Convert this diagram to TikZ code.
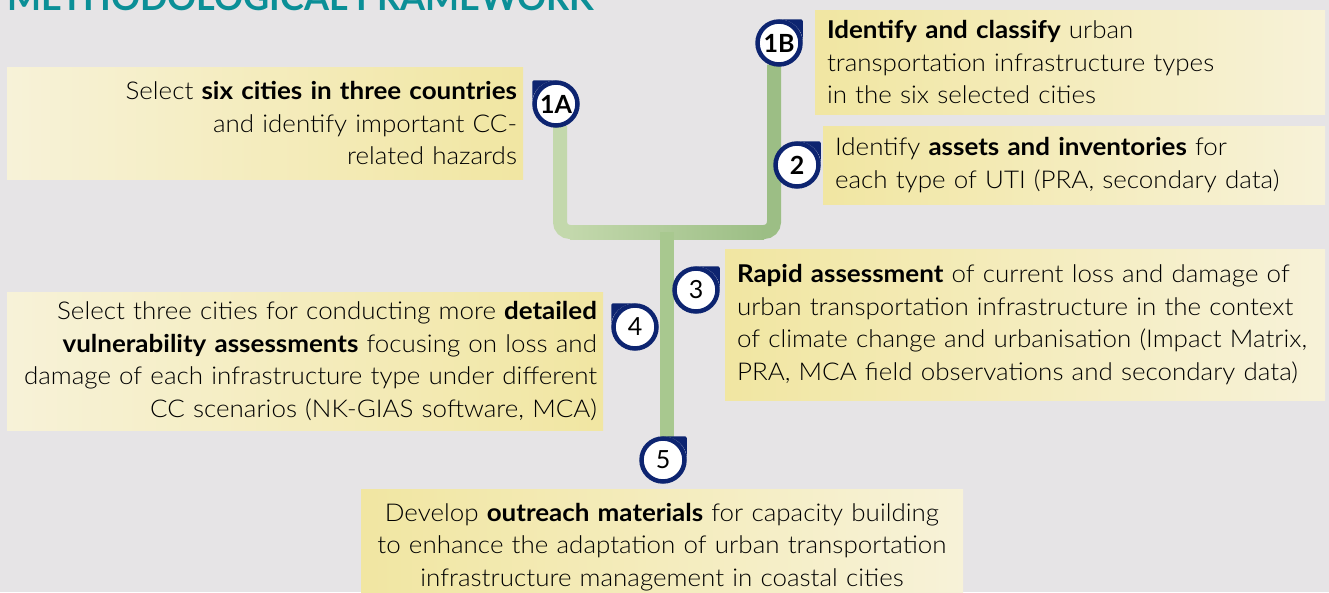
\documentclass[tikz,border=0pt]{standalone}
\usepackage{fontspec}
\setmainfont{Lato}[UprightFont={* Light},BoldFont={* Bold},FakeStretch=1.06]
\newfontfamily\numfont{Lato}
\definecolor{bgcolor}{HTML}{E6E4E6}
\definecolor{boxpale}{HTML}{F7F2D8}
\definecolor{boxgold}{HTML}{F1E6A2}
\definecolor{badgeblue}{HTML}{0D2470}
\definecolor{stemlight}{HTML}{C3D8AC}
\definecolor{stemdark}{HTML}{9CBE85}
\definecolor{stemmid}{HTML}{A8C88F}
\definecolor{titleteal}{HTML}{0B8F97}
\pgfdeclarelayer{backdrop}
\pgfdeclarelayer{stems}
\pgfsetlayers{backdrop,stems,main}
\begin{document}
\begin{tikzpicture}[x=1pt,y=-1pt,
    infobox/.style={rectangle, inner xsep=12, inner ysep=0, font=\fontsize{24.5}{32.5}\selectfont},
    leftbox/.style={infobox, left color=boxpale, right color=boxgold, align=right, inner xsep=6},
    rightbox/.style={infobox, left color=boxgold, right color=boxpale, align=left},
    midbox/.style={infobox, left color=boxgold, right color=boxpale, align=center},
    badge/.style={circle, draw=badgeblue, line width=4.5, fill=white, minimum size=43, inner sep=0, outer sep=0, font=\fontsize{25}{25}\numfont\bfseries},
    stem/.style={line width=14, rounded corners=10}]

    \useasboundingbox (0,0) rectangle (1329,592);
    \clip (0,0) rectangle (1329,592);
    \begin{pgfonlayer}{backdrop}
        \fill[bgcolor] (0,0) rectangle (1329,592);
    \end{pgfonlayer}

    \node[anchor=base west, inner sep=0, text=titleteal, font=\fontsize{36}{36}\numfont\bfseries] (title) at (7,10) {METHODOLOGICAL FRAMEWORK};

    % steps
    \node[leftbox, minimum width=516, minimum height=112, text width=504] (s1a) at (265,123) {Select \textbf{six cities in three countries}\\ and identify important CC-\\ related hazards};
    \node[rightbox, minimum width=510, minimum height=104, text width=486] (s1b) at (1070,62) {\textbf{Identify and classify} urban\\ transportation infrastructure types\\ in the six selected cities};
    \node[rightbox, minimum width=502, minimum height=78, text width=478] (s2) at (1074,165) {Identify \textbf{assets and inventories} for\\ each type of UTI (PRA, secondary data)};
    \node[rightbox, minimum width=600, minimum height=151, text width=576] (s3) at (1025,324.5) {\textbf{Rapid assessment} of current loss and damage of\\ urban transportation infrastructure in the context\\ of climate change and urbanisation (Impact Matrix,\\ PRA, MCA field observations and secondary data)};
    \node[leftbox, minimum width=596, minimum height=138, text width=584] (s4) at (305,361) {Select three cities for conducting more \textbf{detailed}\\ \textbf{vulnerability assessments} focusing on loss and\\ damage of each infrastructure type under different\\ CC scenarios (NK-GIAS software, MCA)};
    \node[midbox, minimum width=602, minimum height=116, text width=578] (s5) at (662,547) {Develop \textbf{outreach materials} for capacity building\\ to enhance the adaptation of urban transportation\\ infrastructure management in coastal cities};

    % badges
    \node[badge] (b1a) at (556,104) {1A};
    \node[badge] (b1b) at (779,43) {1B};
    \node[badge] (b2) at (797,165) {2};
    \node[badge] (b3) at (696,290) {\mdseries 3};
    \node[badge] (b4) at (635,327) {\mdseries 4};
    \node[badge] (b5) at (663,460) {\mdseries 5};

    \fill[badgeblue, rounded corners=2] (b1a.center) ++(0,-23.75) -- ++(-23.75,0) -- ++(0,23.75) arc[start angle=180, end angle=270, radius=23.75];
    \fill[badgeblue, rounded corners=2] (b1b.center) ++(0,-23.75) -- ++(23.75,0) -- ++(0,23.75) arc[start angle=0, end angle=-90, radius=23.75];
    \fill[badgeblue, rounded corners=2] (b2.center) ++(0,-23.75) -- ++(23.75,0) -- ++(0,23.75) arc[start angle=0, end angle=-90, radius=23.75];
    \fill[badgeblue, rounded corners=2] (b3.center) ++(0,-23.75) -- ++(23.75,0) -- ++(0,23.75) arc[start angle=0, end angle=-90, radius=23.75];
    \fill[badgeblue, rounded corners=2] (b4.center) ++(0,-23.75) -- ++(-23.75,0) -- ++(0,23.75) arc[start angle=180, end angle=270, radius=23.75];
    \fill[badgeblue, rounded corners=2] (b5.center) ++(0,-23.75) -- ++(23.75,0) -- ++(0,23.75) arc[start angle=0, end angle=-90, radius=23.75];

    % tree
    \coordinate (fork) at (667,232);
    \begin{pgfonlayer}{stems}
        \draw[stem, stemlight] ([xshift=4]b1a.south) |- (fork);
        \draw[stem, stemdark] (fork) -| ([xshift=-5]b1b.south);
        \shade[left color=stemlight, right color=stemdark] (570,225) rectangle (764,239);
        \draw[stem, stemmid] (fork) -- ([xshift=4]b5.north);
    \end{pgfonlayer}
\end{tikzpicture}
\end{document}
